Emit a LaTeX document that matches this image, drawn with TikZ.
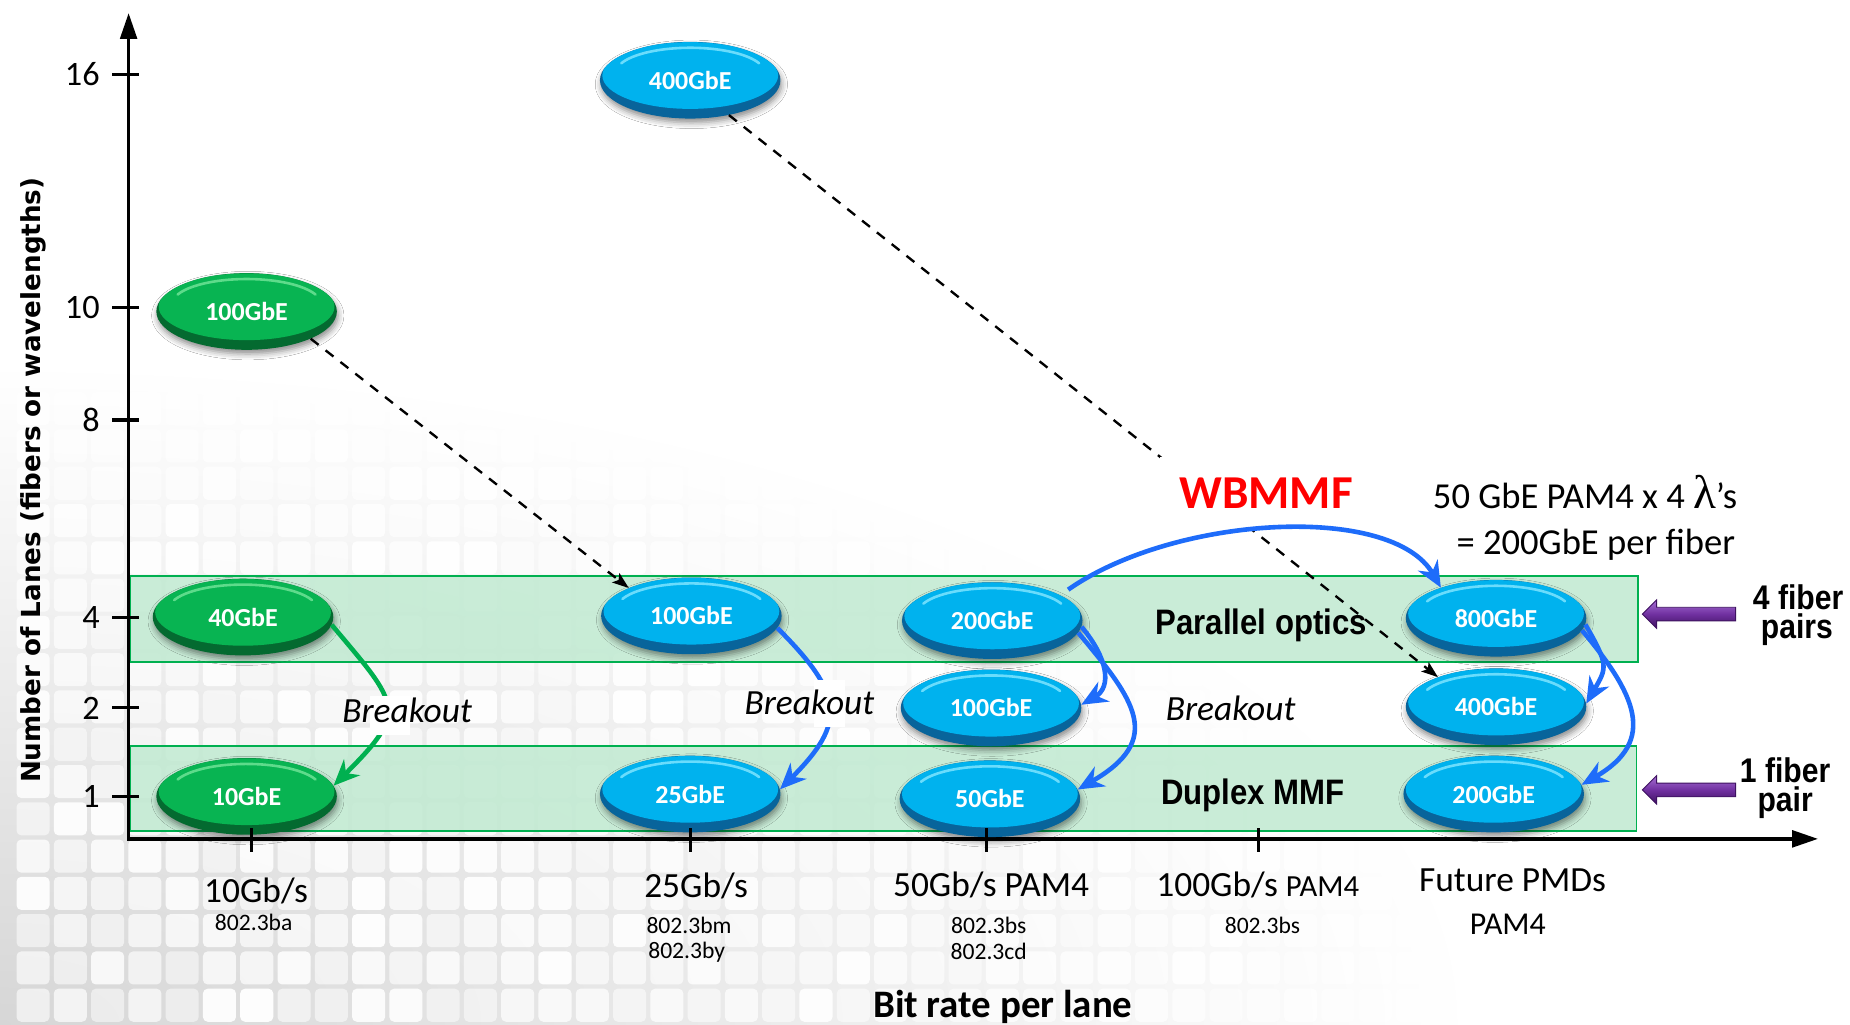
\documentclass[tikz,border=0pt]{standalone}
\usepackage{fontspec}
\setmainfont{Carlito}
\newfontfamily\narrowfont{Liberation Sans}[FakeStretch=0.88]
\newfontfamily\lanesfont{DejaVu Sans}
\newfontfamily\greekfont{Liberation Serif}
\usetikzlibrary{arrows.meta,shapes.geometric,shadows.blur}

\newcommand{\fsz}[1]{\fontsize{#1}{#1}\selectfont}

\definecolor{pillblue}{RGB}{0,178,238}
\definecolor{pillbluerim}{RGB}{8,100,155}
\definecolor{pillbluehi}{RGB}{125,228,255}
\definecolor{pillgreen}{RGB}{8,180,82}
\definecolor{pillgreenrim}{RGB}{4,106,48}
\definecolor{pillgreenhi}{RGB}{110,226,150}
\definecolor{bandfill}{RGB}{194,234,210}
\definecolor{bandline}{RGB}{0,176,80}
\definecolor{arrowblue}{RGB}{30,108,250}
\definecolor{arrowgreen}{RGB}{0,176,80}
\definecolor{purplemid}{RGB}{112,48,160}
\definecolor{purplehi}{RGB}{165,110,210}
\definecolor{purplelo}{RGB}{62,18,96}

\tikzset{
  pill/.style n args={3}{ellipse, minimum width=153pt, minimum height=65pt, inner sep=0pt,
    fill=#2, text=white, font=\bfseries\fsz{22},
    blur shadow={shadow xshift=1pt, shadow yshift=-3.5pt, shadow blur radius=5pt, shadow opacity=45},
    path picture={
      \coordinate (pc) at (path picture bounding box.center);
      \fill[#1] ([yshift=4pt]pc) ellipse [x radius=74.5pt, y radius=28.3pt];
      \draw[#3, line width=2.2pt, line cap=round, opacity=.85]
        ([yshift=6.5pt]pc) ++(158:63pt and 21pt)
        arc[start angle=158, end angle=22, x radius=63pt, y radius=21pt];
    }},
  bluepill/.style={pill={pillblue}{pillbluerim}{pillbluehi}},
  greenpill/.style={pill={pillgreen}{pillgreenrim}{pillgreenhi}},
  band/.style={fill=bandfill, fill opacity=0.88, draw=bandline, line width=1.6pt},
  axisline/.style={line width=3.2pt, draw=black},
  tickline/.style={line width=2.6pt},
  dashline/.style={line width=2pt, dash pattern=on 8.5pt off 7.5pt,
    -{Stealth[length=14pt,width=10pt,inset=3pt]}},
  bluecurve/.style={draw=arrowblue, line width=3.9pt,
    -{Stealth[length=22pt,width=19pt,inset=7pt]}},
  greencurve/.style={draw=arrowgreen, line width=3.9pt,
    -{Stealth[length=22pt,width=19pt,inset=7pt]}},
  ticklabel/.style={font=\fsz{29}, anchor=east},
  ratelabel/.style={font=\fsz{30}, anchor=base},
  stdlabel/.style={font=\fsz{20}, anchor=base},
  breaklabel/.style={font=\itshape\fsz{30}, anchor=base},
  bandlabel/.style={font=\narrowfont\bfseries\fsz{30}, anchor=base},
  fiberlabel/.style={font=\narrowfont\bfseries\fsz{29}, anchor=base, inner sep=0pt},
  purplearrow/.style={top color=purplehi, bottom color=purplelo, middle color=purplemid,
    draw=purplelo, line width=0.8pt},
}

\begin{document}
\begin{tikzpicture}[x=1pt, y=1pt]
\useasboundingbox (0,0) rectangle (1568,868);

% tiled grey backdrop fading out from the lower left corner
\begin{scope}
  \clip (0,0) rectangle (1568,868);
  \fill[white] (0,0) rectangle (1568,868);
  \shade[inner color=black!16, outer color=white] (0,0) ellipse [x radius=1250, y radius=560];
  \pgfmathsetseed{42}
  \foreach \i in {0,...,38} {
    \foreach \j in {0,...,17} {
      \pgfmathsetmacro{\op}{0.5+0.45*rnd}
      \fill[white, opacity=\op, rounded corners=4pt] (14+31.6*\i, 2+31.6*\j) rectangle ++(28,28);
    }
  }
\end{scope}

% lane bands
\draw[band] (110,307) rectangle (1388,380);
\draw[band] (110,164) rectangle (1387,236);

% axes
\coordinate (origin) at (109,157);
\coordinate (ytip) at (109,857);
\coordinate (xtip) at (1541,157);
\draw[axisline, {Triangle[length=22pt,width=14pt]}-{Triangle[length=22pt,width=14pt]}]
  (ytip) -- (origin) -- (xtip);

\foreach \v/\yy in {16/805,10/607,8/512,4/345,2/268,1/193} {
  \draw[tickline] (95,\yy) -- (118,\yy);
  \node[ticklabel] (ylab\v) at (88,\yy) {\v};
}

% Ethernet rates
\node[greenpill] (g100) at (209,604) {100GbE};
\node[greenpill] (g40) at (206,345) {40GbE};
\node[greenpill] (g10) at (209,193) {10GbE};
\node[bluepill] (b400top) at (585,800) {400GbE};
\node[bluepill] (b100a) at (586,346) {100GbE};
\node[bluepill] (b25) at (585,195) {25GbE};
\node[bluepill] (b200) at (841,342) {200GbE};
\node[bluepill] (b100b) at (840,268) {100GbE};
\node[bluepill] (b50) at (839,191) {50GbE};
\node[bluepill] (b800) at (1268,344) {800GbE};
\node[bluepill] (b400b) at (1268,269) {400GbE};
\node[bluepill] (b200b) at (1266,195) {200GbE};

% dashed evolution lines
\draw[dashline] (g100.-23) -- (b100a.156);
\draw[dashline] (b400top.-42) -- (b400b.153);

\node[fill=white, minimum width=180pt, minimum height=62pt, text=red,
      font=\bfseries\fsz{40}] (wb) at (1073,450) {WBMMF};

% breakout and WBMMF arrows
\draw[bluecurve] ([shift={(6,5)}]b200.20) .. controls +(35:110) and +(120:83) .. (b800.151);
\draw[bluecurve] (b200.-4) .. controls +(-50:35) and +(30:30) .. (b100b.2);
\draw[bluecurve] (b200.-8) .. controls +(-50:75) and +(30:85) .. (b50.6);
\draw[bluecurve] (b800.-4) .. controls +(-60:40) and +(60:35) .. (b400b.2);
\draw[bluecurve] (b800.-8) .. controls +(-50:70) and +(30:75) .. (b200b.6);
\draw[bluecurve] (b100a.-8) .. controls +(-45:80) and +(45:80) .. (b25.3);
\draw[greencurve] (g40.-5) .. controls +(-50:90) and +(45:90) .. (g10.7);

% label patches over the breakout arrows
\fill[white] (314,245) rectangle (347.5,278);
\fill[white] (690,252) rectangle (716,292);

\node[breaklabel] (bk1) at (345,256) {Breakout};
\node[breaklabel] (bk2) at (686,262) {Breakout};
\node[breaklabel] (bk3) at (1043,257) {Breakout};

\node[bandlabel] (par) at (1069,330) {Parallel optics};
\node[bandlabel] (dup) at (1062,186) {Duplex MMF};

% x ticks and labels
\foreach \xx in {213,585,836,1067} {
  \draw[tickline] (\xx,146) -- (\xx,166);
}
\node[ratelabel] (r10) at (217,103) {10Gb/s};
\node[stdlabel] (s10) at (215,79) {802.3ba};
\node[ratelabel] (r25) at (590,107) {25Gb/s};
\node[stdlabel] (s25a) at (584,77) {802.3bm};
\node[stdlabel] (s25b) at (582,56) {802.3by};
\node[ratelabel] (r50) at (840,108) {50Gb/s PAM4};
\node[stdlabel] (s50a) at (838,77) {802.3bs};
\node[stdlabel] (s50b) at (838,55) {802.3cd};
\node[ratelabel] (r100) at (1066,108) {100Gb/s {\fsz{26}PAM4}};
\node[stdlabel] (s100) at (1070,77) {802.3bs};
\node[ratelabel] (rfut) at (1282,112) {Future PMDs};
\node[ratelabel, font=\fsz{27}] (sfut) at (1278,76) {PAM4};

\node[font=\bfseries\fsz{33}, anchor=base] (xtitle) at (850,6) {Bit rate per lane};
\node[font=\lanesfont\bfseries\fsz{22.2}, rotate=90, anchor=base] (ytitle) at (34,461)
  {Number of Lanes (fibers or wavelengths)};

% WBMMF note
\node[anchor=base west, font=\fsz{31}] (lam1) at (1211,437) {50 GbE PAM4 x 4 {\greekfont\fsz{40}λ}’s};
\node[anchor=base west, font=\fsz{31}] (lam2) at (1231,398) {= 200GbE per fiber};

% fiber pair markers
\shade[purplearrow] (1392,347.5) -- (1404,359.5) -- (1404,353.3) -- (1471,353.3)
  -- (1471,341.7) -- (1404,341.7) -- (1404,335.5) -- cycle;
\shade[purplearrow] (1392,198.5) -- (1404,210.5) -- (1404,204.3) -- (1471,204.3)
  -- (1471,192.7) -- (1404,192.7) -- (1404,186.5) -- cycle;
\node[fiberlabel] (f4a) at (1524,351) {4 fiber};
\node[fiberlabel] (f4b) at (1523,327) {pairs};
\node[fiberlabel] (f1a) at (1513,205) {1 fiber};
\node[fiberlabel] (f1b) at (1513,180) {pair};
\end{tikzpicture}
\end{document}
